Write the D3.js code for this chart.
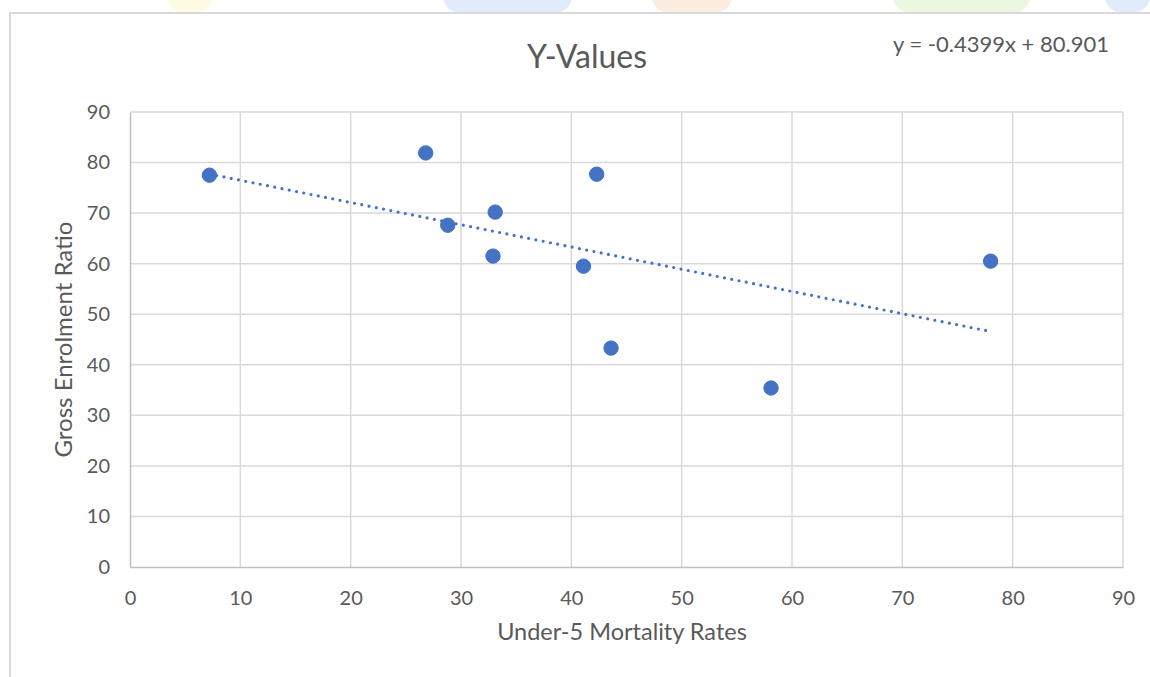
<!DOCTYPE html>
<html lang="en">
  <head>
    <meta charset="UTF-8" />
    <title>Y-Values</title>
    <script src="https://cdn.jsdelivr.net/npm/d3@7"></script>
    <style>
      html,
      body {
        margin: 0;
        padding: 0;
        background: #fff;
      }
      svg {
        display: block;
        font-family: Lato, 'Open Sans', sans-serif;
      }
    </style>
  </head>
  <body>
    <svg width="1150" height="677"></svg>
    <script>
      // Under-5 mortality (x) vs gross enrolment ratio (y)
      const mortality = [7.2, 26.8, 28.8, 33.1, 32.9, 42.3, 41.1, 43.6, 58.1, 78.0];
      const enrolment = [77.5, 81.9, 67.6, 70.2, 61.5, 77.7, 59.5, 43.3, 35.4, 60.5];
      const xTicks = [0, 10, 20, 30, 40, 50, 60, 70, 80, 90];
      const yTicks = [0, 10, 20, 30, 40, 50, 60, 70, 80, 90];
      const trendSlope = -0.4399;
      const trendIntercept = 80.901;

      const svg = d3.select('svg');
      const margin = { left: 130, right: 27, top: 112, bottom: 110 };
      const width = 1150;
      const height = 677;

      // faint logo blobs peeking above the chart frame
      const blobs = [
        { x: 168, w: 45, c: '#fffbe3' },
        { x: 443, w: 129, c: '#e0ecfb' },
        { x: 652, w: 80, c: '#fdece0' },
        { x: 893, w: 137, c: '#ebf7e0' },
        { x: 1105, w: 45, c: '#e0ecfb' },
      ];
      svg
        .selectAll('rect.blob')
        .data(blobs)
        .enter()
        .append('rect')
        .attr('class', 'blob')
        .attr('x', d => d.x)
        .attr('y', -20)
        .attr('rx', 18)
        .attr('width', d => d.w)
        .attr('height', 33)
        .attr('fill', d => d.c);

      // chart frame (top and left edges visible)
      svg
        .append('path')
        .attr('d', 'M10,677 V13 H1150')
        .attr('fill', 'none')
        .attr('stroke', '#d9d9d9')
        .attr('stroke-width', 2);

      const x = d3
        .scaleLinear()
        .domain([0, 90])
        .range([margin.left, width - margin.right]);
      const y = d3
        .scaleLinear()
        .domain([0, 90])
        .range([height - margin.bottom, margin.top]);

      // gridlines
      svg
        .append('g')
        .selectAll('line')
        .data(xTicks.slice(1))
        .enter()
        .append('line')
        .attr('x1', d => x(d))
        .attr('x2', d => x(d))
        .attr('y1', y(0))
        .attr('y2', y(90))
        .attr('stroke', '#d9d9d9')
        .attr('stroke-width', 1.5);
      svg
        .append('g')
        .selectAll('line')
        .data(yTicks.slice(1))
        .enter()
        .append('line')
        .attr('x1', x(0))
        .attr('x2', x(90))
        .attr('y1', d => y(d))
        .attr('y2', d => y(d))
        .attr('stroke', '#d9d9d9')
        .attr('stroke-width', 1.5);

      // axes
      const xAxis = d3.axisBottom(x).tickValues(xTicks).tickSize(0).tickPadding(24);
      const yAxis = d3.axisLeft(y).tickValues(yTicks).tickSize(0).tickPadding(20);

      svg
        .append('g')
        .attr('transform', `translate(0,${y(0)})`)
        .call(xAxis);
      svg
        .append('g')
        .attr('transform', `translate(${x(0)},0)`)
        .call(yAxis);

      svg
        .selectAll('path.domain')
        .attr('stroke', '#bfbfbf')
        .attr('stroke-width', 1.5);
      svg
        .selectAll('.tick text')
        .attr('fill', '#595959')
        .style('font-size', '20px')
        .style('font-family', "Lato, 'Open Sans', sans-serif");

      // trendline from the fitted equation
      const xr = d3.extent(mortality);
      svg
        .append('line')
        .attr('x1', x(xr[0]))
        .attr('y1', y(trendSlope * xr[0] + trendIntercept))
        .attr('x2', x(xr[1]))
        .attr('y2', y(trendSlope * xr[1] + trendIntercept))
        .attr('stroke', '#4472c4')
        .attr('stroke-width', 3.2)
        .attr('stroke-linecap', 'round')
        .attr('stroke-dasharray', '0 7.4');

      // points
      svg
        .append('g')
        .selectAll('circle')
        .data(mortality)
        .enter()
        .append('circle')
        .attr('cx', d => x(d))
        .attr('cy', (d, i) => y(enrolment[i]))
        .attr('r', 7.2)
        .attr('fill', '#4472c4')
        .attr('stroke', '#4472c4')
        .attr('stroke-width', 1);

      // titles
      svg
        .append('text')
        .attr('x', 587)
        .attr('y', 68)
        .attr('text-anchor', 'middle')
        .attr('fill', '#595959')
        .style('font-size', '32px')
        .text('Y-Values');

      svg
        .append('text')
        .attr('x', 893)
        .attr('y', 52)
        .attr('fill', '#595959')
        .style('font-size', '22px')
        .text('y = -0.4399x + 80.901');

      svg
        .append('text')
        .attr('x', 622)
        .attr('y', 640)
        .attr('text-anchor', 'middle')
        .attr('fill', '#595959')
        .style('font-size', '23.5px')
        .text('Under-5 Mortality Rates');

      svg
        .append('text')
        .attr('transform', `translate(72,${(y(0) + y(90)) / 2}) rotate(-90)`)
        .attr('text-anchor', 'middle')
        .attr('fill', '#595959')
        .style('font-size', '24px')
        .text('Gross Enrolment Ratio');
    </script>
  </body>
</html>
